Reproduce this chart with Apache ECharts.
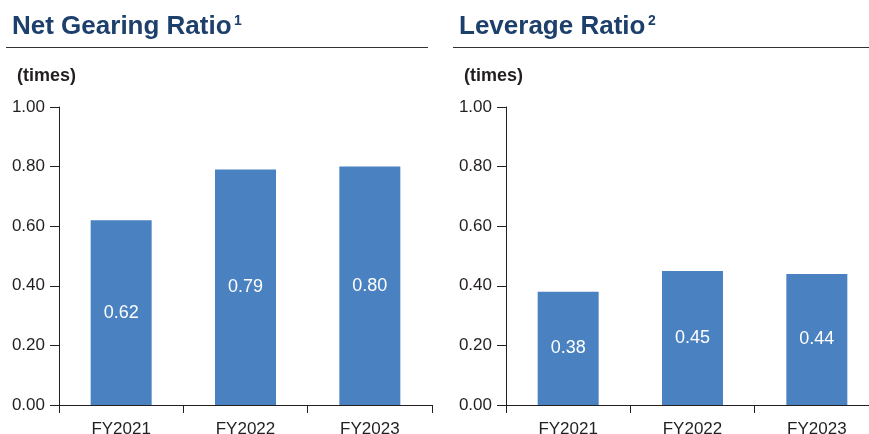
<!DOCTYPE html>
<html>
<head>
<meta charset="utf-8">
<script src="https://cdn.jsdelivr.net/npm/echarts@6/dist/echarts.min.js"></script>
<style>
  html, body { margin: 0; padding: 0; background: #fff; }
  #chart { width: 869px; height: 434px; }
</style>
</head>
<body>
<div id="chart"></div>
<script>
// Fiscal years shown on both panels
const categories = ['FY2021', 'FY2022', 'FY2023'];
// Net gearing ratio (times)
const netGearing = [0.62, 0.79, 0.80];
// Leverage ratio (times)
const leverage = [0.38, 0.45, 0.44];
// Value axis ticks
const yTicks = [0, 0.2, 0.4, 0.6, 0.8, 1.0];

const FONT = '"Liberation Sans", Arial, Helvetica, sans-serif';
const NAVY = '#1c3f6b';
const INK = '#231f20';
const BAR = '#4a81c1';

const chart = echarts.init(document.getElementById('chart'), null, { renderer: 'canvas' });

function valueAxis(gridIndex) {
  return {
    type: 'value',
    gridIndex,
    min: yTicks[0],
    max: yTicks[yTicks.length - 1],
    interval: yTicks[1] - yTicks[0],
    axisLine: { show: true, lineStyle: { color: INK, width: 1 } },
    axisTick: { show: true, inside: false, length: 9, lineStyle: { color: INK, width: 1 } },
    splitLine: { show: false },
    axisLabel: {
      margin: 14,
      color: INK,
      fontSize: 17,
      fontFamily: FONT,
      formatter: v => v.toFixed(2)
    }
  };
}

function categoryAxis(gridIndex) {
  return {
    type: 'category',
    gridIndex,
    data: categories,
    boundaryGap: true,
    axisLine: { show: true, lineStyle: { color: INK, width: 1 } },
    axisTick: { show: true, alignWithLabel: false, length: 8, lineStyle: { color: INK, width: 1 } },
    axisLabel: { margin: 16, color: INK, fontSize: 17, fontFamily: FONT }
  };
}

function barSeries(index, data) {
  return {
    type: 'bar',
    xAxisIndex: index,
    yAxisIndex: index,
    data,
    barWidth: 61,
    itemStyle: { color: BAR },
    label: {
      show: true,
      position: 'inside',
      color: '#ffffff',
      fontSize: 18,
      fontFamily: FONT,
      formatter: p => p.value.toFixed(2)
    },
    emphasis: { disabled: true }
  };
}

// Panel title with footnote marker, rule underneath and unit caption
function panelHeader(x, lineX1, lineX2, title, note, noteX) {
  return [
    {
      type: 'text', left: x, top: 14,
      style: { text: title, fill: NAVY, font: 'bold 26px ' + FONT }
    },
    {
      type: 'text', left: noteX, top: 14,
      style: { text: note, fill: NAVY, font: 'bold 14px ' + FONT }
    },
    {
      type: 'line',
      shape: { x1: lineX1, y1: 47.5, x2: lineX2, y2: 47.5 },
      style: { stroke: '#333333', lineWidth: 1 }
    },
    {
      type: 'text', left: x + 5, top: 67,
      style: { text: '(times)', fill: INK, font: 'bold 18px ' + FONT }
    }
  ];
}

chart.setOption({
  animation: false,
  backgroundColor: '#ffffff',
  grid: [
    { left: 59, width: 373, top: 107, height: 298, outerBoundsMode: 'none', containLabel: false },
    { left: 506, width: 373, top: 107, height: 298, outerBoundsMode: 'none', containLabel: false }
  ],
  xAxis: [categoryAxis(0), categoryAxis(1)],
  yAxis: [valueAxis(0), valueAxis(1)],
  series: [barSeries(0, netGearing), barSeries(1, leverage)],
  graphic: [
    ...panelHeader(12, 6, 428, 'Net Gearing Ratio', '1', 234),
    ...panelHeader(459, 453, 869, 'Leverage Ratio', '2', 648)
  ]
});
</script>
</body>
</html>
